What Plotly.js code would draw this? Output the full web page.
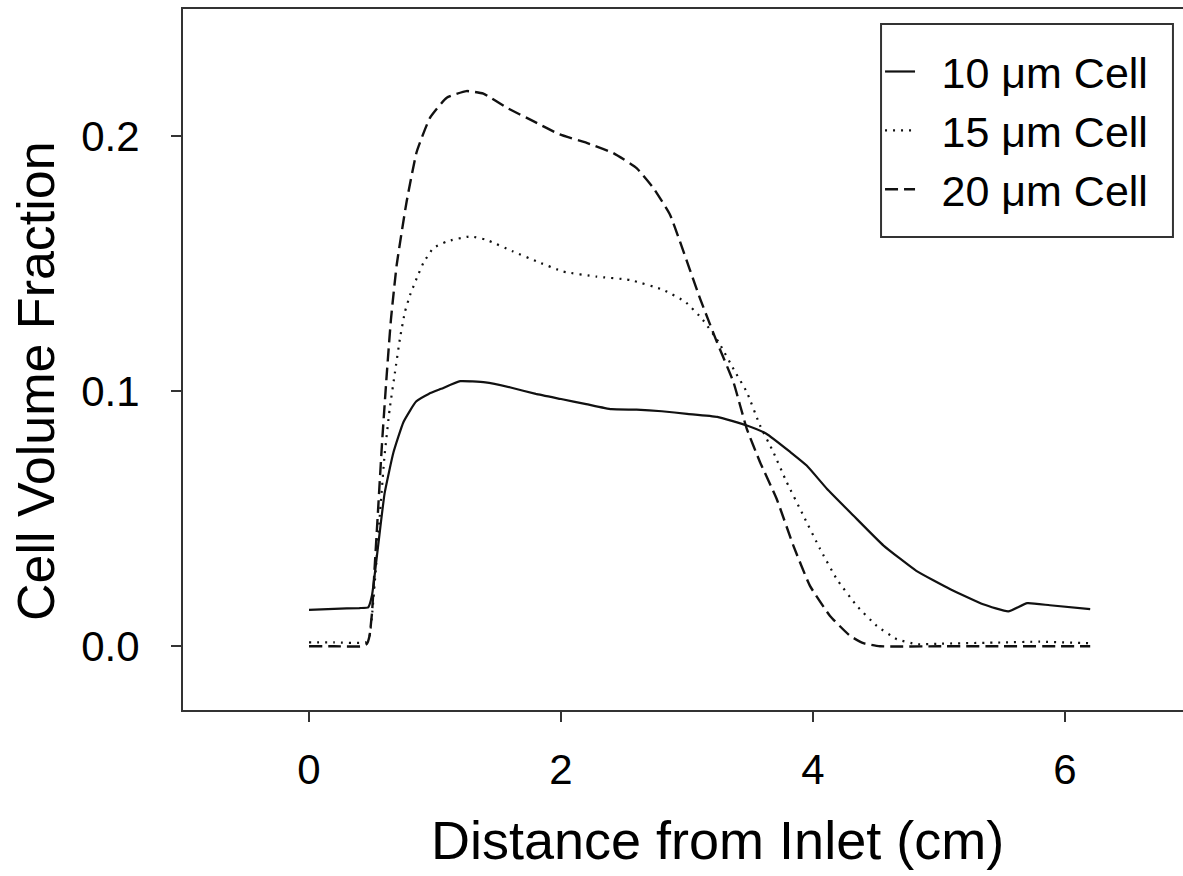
<!DOCTYPE html>
<html>
<head>
<meta charset="utf-8">
<script src="https://cdn.plot.ly/plotly-3.0.1.min.js"></script>
<style>
html, body { margin: 0; padding: 0; background: #fff; overflow: hidden; width: 1183px; height: 876px; }
#chart { width: 1200px; height: 876px; }
</style>
</head>
<body>
<div id="chart"></div>
<script>
// Distance from inlet (cm) and cell volume fraction for each cell size
const x10 = [0, 0.2, 0.4, 0.47, 0.5, 0.55, 0.6, 0.67, 0.75, 0.85, 0.95, 1.05, 1.2, 1.4, 1.6, 1.8, 2.0, 2.2, 2.4, 2.6, 2.8, 3.0, 3.24, 3.47, 3.63, 3.82, 3.95, 4.11, 4.32, 4.56, 4.82, 5.09, 5.35, 5.55, 5.70, 5.88, 6.2];
const y10 = [0.0143, 0.0147, 0.015, 0.0153, 0.02, 0.04, 0.06, 0.076, 0.088, 0.096, 0.099, 0.101, 0.104, 0.1035, 0.1015, 0.099, 0.097, 0.095, 0.093, 0.0928, 0.0922, 0.0912, 0.0900, 0.0867, 0.0834, 0.0762, 0.0709, 0.0618, 0.0513, 0.0395, 0.0296, 0.0224, 0.0165, 0.0137, 0.0169, 0.0161, 0.0146];

const x15 = [0, 0.2, 0.45, 0.48, 0.5, 0.53, 0.56, 0.6, 0.64, 0.683, 0.722, 0.762, 0.802, 0.855, 0.907, 0.987, 1.093, 1.278, 1.41, 1.62, 1.807, 2.018, 2.283, 2.548, 2.812, 2.984, 3.117, 3.249, 3.381, 3.474, 3.579, 3.685, 3.791, 3.923, 4.056, 4.188, 4.347, 4.506, 4.664, 4.823, 5.0, 5.5, 5.8, 6.2];
const y15 = [0.0015, 0.0015, 0.0015, 0.004, 0.012, 0.03, 0.05, 0.075, 0.093, 0.1077, 0.1208, 0.1313, 0.1378, 0.1444, 0.1503, 0.1562, 0.1588, 0.1608, 0.1594, 0.1549, 0.151, 0.147, 0.145, 0.1437, 0.1398, 0.1352, 0.1286, 0.1195, 0.1077, 0.0998, 0.0867, 0.0762, 0.0644, 0.0513, 0.0382, 0.0264, 0.0159, 0.008, 0.0028, 0.0008, 0.001, 0.0015, 0.0018, 0.0012];

const x20 = [0, 0.2, 0.42, 0.46, 0.48, 0.5, 0.52, 0.55, 0.58, 0.616, 0.65, 0.696, 0.775, 0.855, 0.96, 1.093, 1.25, 1.384, 1.569, 1.78, 1.99, 2.204, 2.415, 2.6, 2.733, 2.865, 2.944, 3.103, 3.236, 3.368, 3.474, 3.579, 3.712, 3.844, 3.976, 4.135, 4.294, 4.4, 4.532, 5.0, 5.5, 6.2];
const y20 = [0, 0, 0, 0.001, 0.004, 0.013, 0.03, 0.055, 0.08, 0.106, 0.128, 0.1496, 0.1745, 0.194, 0.2073, 0.2152, 0.2178, 0.2168, 0.2113, 0.206, 0.2008, 0.1975, 0.1935, 0.1876, 0.1798, 0.1693, 0.1588, 0.1365, 0.1195, 0.1037, 0.0854, 0.0723, 0.0578, 0.0395, 0.0237, 0.0119, 0.0041, 0.0012, 0, 0, 0, 0];

const seriesNames = ["10 \u03bcm Cell", "15 \u03bcm Cell", "20 \u03bcm Cell"];
const xTicks = [0, 2, 4, 6];
const yTicks = [0.0, 0.1, 0.2];
const yTickText = ["0.0", "0.1", "0.2"];
const xTitle = "Distance from Inlet (cm)";
const yTitle = "Cell Volume Fraction";

const FONT = "Arial, 'Liberation Sans', Helvetica, sans-serif";
const INK = "#111";
const GAP = "\u2002"; // spacing between legend sample and label

const traces = [
  {x: x10, y: y10, name: GAP + seriesNames[0], mode: "lines", line: {color: INK, width: 2.2, dash: "solid", shape: "spline", smoothing: 0.4}},
  {x: x15, y: y15, name: GAP + seriesNames[1], mode: "lines", line: {color: INK, width: 2.2, dash: "2px,6px", shape: "spline", smoothing: 0.4}},
  {x: x20, y: y20, name: GAP + seriesNames[2], mode: "lines", line: {color: INK, width: 2.4, dash: "13px,6px", shape: "spline", smoothing: 0.4}}
];

const layout = {
  width: 1200, height: 876,
  margin: {l: 183, r: 9, t: 9, b: 166},
  paper_bgcolor: "#fff", plot_bgcolor: "#fff",
  font: {family: FONT, color: "#000"},
  showlegend: true,
  legend: {
    x: 0.6915, y: 0.960, xanchor: "left", yanchor: "top",
    bgcolor: "rgba(0,0,0,0)", borderwidth: 0,
    itemwidth: 30,
    font: {family: FONT, size: 43, color: "#000"},
    tracegroupgap: 0
  },
  shapes: [
    {type: "rect", xref: "paper", yref: "paper", x0: 0.6925, x1: 0.9821, y0: 0.6748, y1: 0.9786,
     line: {color: "#333", width: 2}, fillcolor: "rgba(0,0,0,0)", layer: "above"}
  ],
  xaxis: {
    range: [-1, 7], tickvals: xTicks, ticktext: xTicks.map(String),
    showgrid: false, zeroline: false,
    showline: true, linecolor: "#333", linewidth: 2, mirror: true,
    ticks: "outside", ticklen: 10, tickwidth: 2, tickcolor: "#333",
    tickfont: {family: FONT, size: 42, color: "#000"},
    ticklabelstandoff: 12
  },
  yaxis: {
    range: [-0.025, 0.25], tickvals: yTicks, ticktext: yTickText,
    showgrid: false, zeroline: false,
    showline: true, linecolor: "#333", linewidth: 2, mirror: true,
    ticks: "outside", ticklen: 10, tickwidth: 2, tickcolor: "#333",
    tickfont: {family: FONT, size: 42, color: "#000"},
    ticklabelstandoff: 23
  },
  annotations: [
    {text: xTitle, xref: "paper", yref: "paper", x: 0.5298, y: -0.1854,
     xanchor: "center", yanchor: "middle", showarrow: false,
     font: {family: FONT, size: 54, color: "#000"}},
    {text: yTitle, xref: "paper", yref: "paper", x: -0.1458, y: 0.4693,
     xanchor: "center", yanchor: "middle", textangle: -90, showarrow: false,
     font: {family: FONT, size: 52, color: "#000"}}
  ]
};

Plotly.newPlot("chart", traces, layout, {displayModeBar: false, staticPlot: true});
</script>
</body>
</html>
